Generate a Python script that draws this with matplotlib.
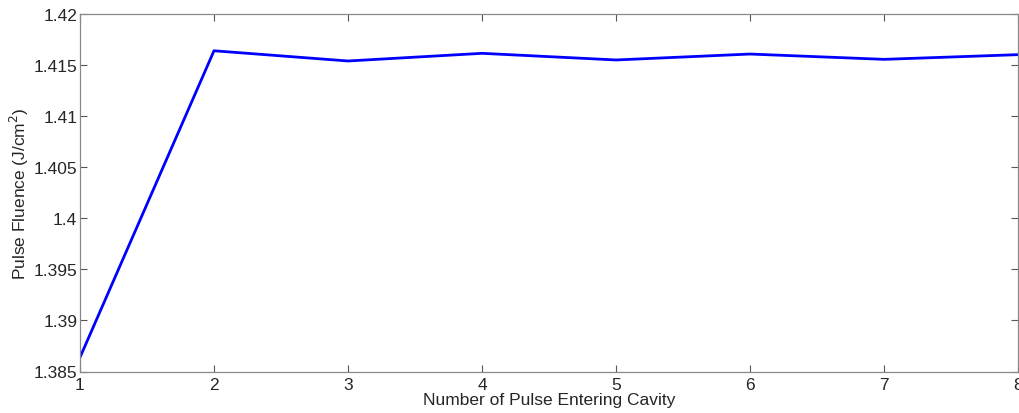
import matplotlib.pyplot as plt

# pulse number vs fluence
pulse_no = [1, 2, 3, 4, 5, 6, 7, 8]
fluence = [1.38638, 1.41640, 1.41540, 1.41615, 1.41550, 1.41608, 1.41556, 1.41602]
yticks = [1.385, 1.39, 1.395, 1.40, 1.405, 1.41, 1.415, 1.42]
ytick_labels = ['1.385', '1.39', '1.395', '1.4', '1.405', '1.41', '1.415', '1.42']

plt.rcParams['font.family'] = ['Liberation Sans', 'DejaVu Sans']

fig = plt.figure(figsize=(10.2, 4.14), dpi=100)
ax = fig.add_axes([80/1020, 41.5/414, 938/1020, 357.5/414])
ax.plot(pulse_no, fluence, color='#0000ff', linewidth=2.0)

ax.set_xlim(1, 8)
ax.set_ylim(1.385, 1.42)
ax.set_xticks(pulse_no)
ax.set_yticks(yticks)
ax.set_yticklabels(ytick_labels)
ax.tick_params(direction='in', top=True, right=True, length=5, width=0.8,
               colors='#555555', labelcolor='#262626', labelsize=12.5, pad=2)
ax.tick_params(axis='x', pad=4)
for s in ax.spines.values():
    s.set_color('#888888')
    s.set_linewidth(0.9)

ax.set_xlabel('Number of Pulse Entering Cavity', fontsize=12.5, color='#262626', labelpad=0)
ax.set_ylabel('Pulse Fluence (J/cm$^2$)', fontsize=12.5, color='#262626', labelpad=2)

fig.savefig('out.png', dpi=100)
